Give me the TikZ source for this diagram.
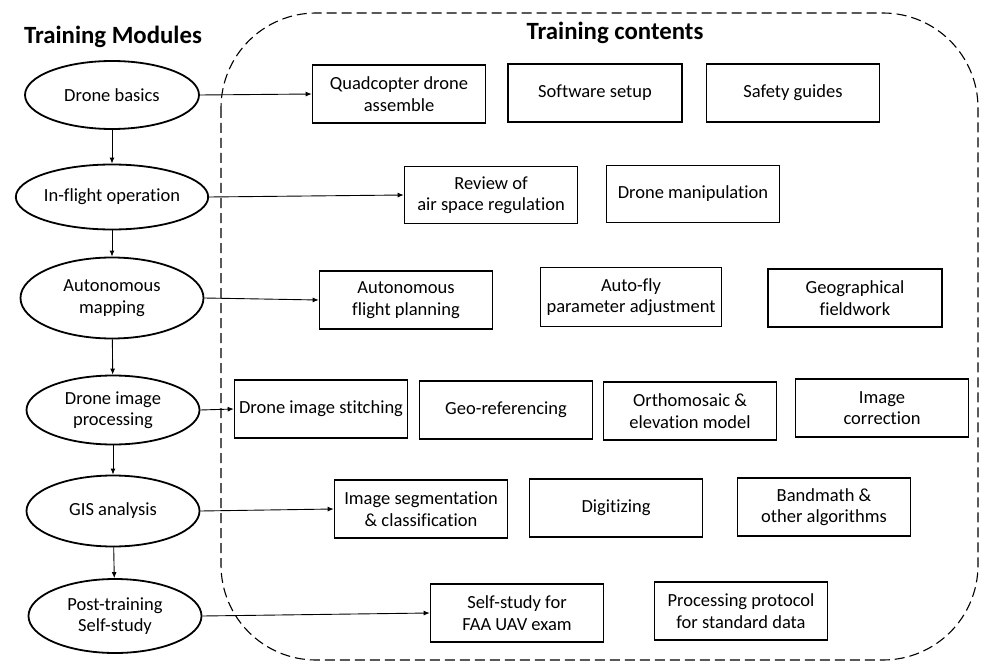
\documentclass[tikz,border=0pt]{standalone}
\usepackage{fontspec}
\setmainfont{Carlito}[Ligatures=NoCommon]
\usetikzlibrary{arrows.meta,shapes.geometric}
\begin{document}
\begin{tikzpicture}[x=1pt,y=-1pt,
  txt/.style={font=\fontsize{18.5}{21.5}\selectfont, align=center},
  modell/.style={draw, ellipse, line width=1.8pt, minimum width=#1, inner sep=0pt, txt},
  cbox/.style={draw, rectangle, line width=1.6pt, minimum width=173pt, minimum height=58pt, inner sep=0pt, txt},
  arr/.style={line width=0.9pt, -{Latex[length=6pt,width=5pt]}},
  ttl/.style={font=\fontsize{24.8}{28}\selectfont\bfseries}
]
\useasboundingbox (0,0) rectangle (987,671);
% dashed container
\draw[line width=1.1pt, dash pattern=on 10pt off 5pt, rounded corners=95pt] (221,13) rectangle (978,660);
% titles
\node[ttl] (t1) at (113,37) {Training Modules};
\node[ttl] (t2) at (615,33) {Training contents};
% modules
\node[modell=174pt, minimum height=68pt] (m1) at (112,95) {Drone basics};
\node[modell=174pt, minimum height=65pt] (m2) at (112,197) {In-flight operation};
\node[modell=183pt, minimum height=81pt] (m3) at (112,298) {Autonomous\\mapping};
\node[modell=173pt, minimum height=69pt] (m4) at (113,410) {Drone image\\processing};
\node[modell=173pt, minimum height=71pt] (m5) at (113,511) {GIS analysis};
\node[modell=173pt, minimum height=74pt] (m6) at (115,616) {Post-training\\Self-study};
% contents
\node[cbox] (a1) at (399,94) {Quadcopter drone\\assemble};
\node[cbox, minimum width=174pt] (a2) at (595,93) {Software setup};
\node[cbox] (a3) at (793,93) {Safety guides};
\node[cbox, minimum height=57pt] (b1) at (491,195) {Review of\\air space regulation};
\node[cbox, minimum height=57pt] (b2) at (693,194) {Drone manipulation};
\node[cbox] (c1) at (406,300) {Autonomous\\flight planning};
\node[cbox, minimum width=181pt, minimum height=59pt] (c2) at (631,297) {Auto-fly\\parameter adjustment};
\node[cbox, minimum width=174pt] (c3) at (855,298) {Geographical\\fieldwork};
\node[cbox] (d1) at (321,409) {Drone image stitching};
\node[cbox] (d2) at (506,410) {Geo-referencing};
\node[cbox] (d3) at (690,411) {Orthomosaic \&\\elevation model};
\node[cbox] (d4) at (882,408) {Image\\correction};
\node[cbox] (e1) at (421,509) {Image segmentation\\\& classification};
\node[cbox] (e2) at (616,508) {Digitizing};
\node[cbox] (e3) at (824,507) {Bandmath \&\\other algorithms};
\node[cbox] (f1) at (517,613) {Self-study for\\FAA UAV exam};
\node[cbox] (f2) at (741,611) {Processing protocol\\for standard data};
% vertical flow
\draw[arr] (m1) -- (m2);
\draw[arr] (m2) -- (m3);
\draw[arr] (m3) -- (m4);
\draw[arr] (m4) -- (m5);
\draw[arr] (m5) -- (m6);
% horizontal links
\draw[arr] (m1.east) -- (a1.west);
\draw[arr] (m2.east) -- (b1.west);
\draw[arr] (m3.east) -- (c1.west);
\draw[arr] (m4.east) -- (d1.west);
\draw[arr] (m5.east) -- (e1.west);
\draw[arr] (m6.east) -- (f1.west);
\end{tikzpicture}
\end{document}
